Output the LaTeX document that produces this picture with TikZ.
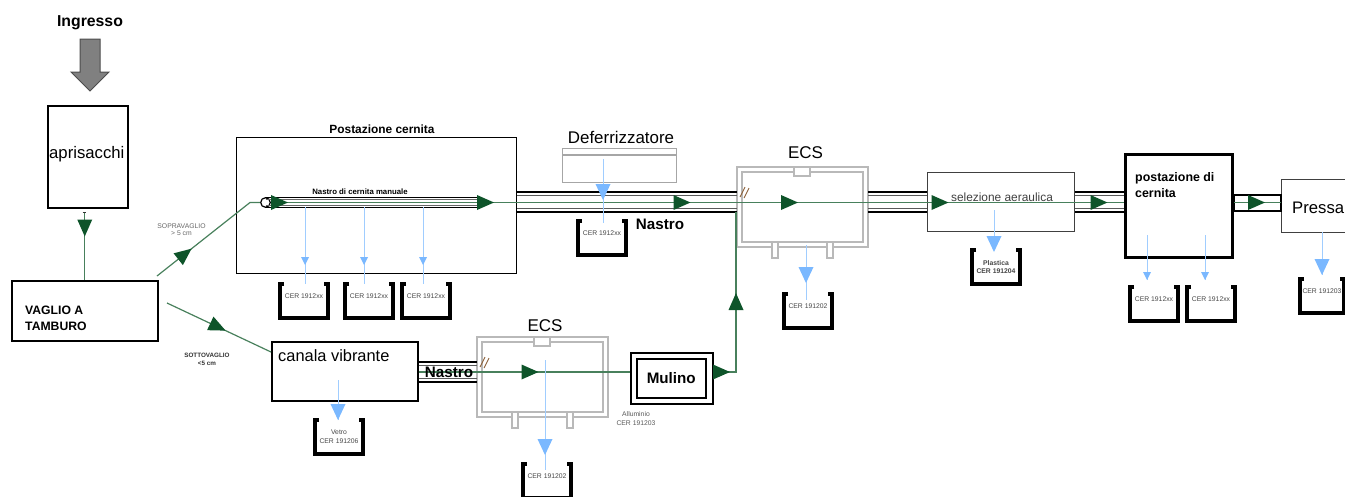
\documentclass[tikz,border=0pt]{standalone}
\usepackage{fontspec}
\setmainfont{Liberation Sans}
\usetikzlibrary{calc}

\definecolor{flowgreen}{RGB}{72,128,92}
\definecolor{headgreen}{RGB}{14,84,42}
\definecolor{dropblue}{RGB}{122,184,255}
\definecolor{droplineblue}{RGB}{160,205,255}
\definecolor{ecsgray}{RGB}{185,185,185}
\definecolor{slashbrown}{RGB}{140,95,55}
\definecolor{arrowgray}{RGB}{128,128,128}
\definecolor{labelgray}{RGB}{70,70,70}

\begin{document}
\begin{tikzpicture}[x=1pt, y=-1pt,
  blk/.style={draw=black, line width=#1, inner sep=0pt, fill=white, anchor=north west},
  blk/.default=1.5,
  flowline/.style={draw=flowgreen, line width=1.2},
  beltout/.style={draw=black, line width=1.6},
  beltin/.style={draw=black!65, line width=0.7},
  dropline/.style={draw=droplineblue, line width=1},
  ecsline/.style={draw=ecsgray, line width=1.2},
  binlabel/.style={font=\fontsize{6.8}{8.5}\selectfont, text=labelgray, align=center, inner sep=0pt},
  binw/.initial=48,
  % waste container: open bracket with inward ticks
  bin/.pic={
    \def\binwd{\pgfkeysvalueof{/tikz/binw}}
    \draw[line width=3.2, line join=miter] (4,0) -- (0,0) -- (0,34) -- (\binwd,34) -- (\binwd,0) -- (\binwd-4,0);
    \coordinate (-top) at (\binwd/2,0);
    \node[binlabel, anchor=north] (-label) at (\binwd/2,10) {#1};
  },
  % eddy current separator housing
  ecs/.pic={
    \node[inner sep=0pt, minimum width=131, minimum height=80, anchor=north west] (-body) at (0,0) {};
    \draw[ecsline] (0,0) rectangle (131,80);
    \draw[ecsline] (5,5) rectangle (126,75);
    \draw[ecsline, fill=white] (57,0) rectangle (73,9);
    \draw[ecsline, fill=white] (35,75) rectangle (41,91);
    \draw[ecsline, fill=white] (90,75) rectangle (96,91);
    \draw[slashbrown, line width=0.9] (3,30) -- (8,20) (7,31) -- (12,21);
  },
  fhead/.pic={\fill[headgreen] (8.5,0) -- (-8.5,7.5) -- (-8.5,-7.5) -- cycle;},
  dheadL/.pic={\fill[dropblue] (0,0) -- (-7.5,-16) -- (7.5,-16) -- cycle;},
  dheadS/.pic={\fill[dropblue] (0,0) -- (-4,-8) -- (4,-8) -- cycle;}
]
\useasboundingbox (0,0) rectangle (1345,496);
\clip (0,0) rectangle (1345,496);

% ---------- entry ----------
\node[font=\bfseries\fontsize{15.8}{19}\selectfont, anchor=base, inner sep=0pt] (ingresso) at (90,26.5) {Ingresso};
\filldraw[fill=arrowgray, draw=black!70, line width=1]
  (80,39) -- (100,39) -- (100,72) -- (109,72) -- (90,91) -- (71,72) -- (80,72) -- cycle;

% ---------- boxes ----------
\node[blk=2, minimum width=80, minimum height=102] (apr) at (47,105) {};
\node[anchor=base, inner sep=0pt, font=\fontsize{16.7}{20}\selectfont] (aprt) at (86.8,158) {aprisacchi};

\node[blk=1.5, minimum width=146, minimum height=60] (vag) at (11,280) {};
\node[anchor=north west, inner sep=0pt, align=left, font=\bfseries\fontsize{12.2}{15.5}\selectfont] (vagt) at (25,306) {VAGLIO A\\TAMBURO};

\node[blk=1.3, minimum width=280, minimum height=136] (cern) at (236,137) {};
\node[anchor=base, inner sep=0pt, font=\bfseries\fontsize{11.9}{14}\selectfont] (cernt) at (382,133) {Postazione cernita};

\node[blk=1.2, draw=black!35, minimum width=114, minimum height=34] (def) at (562,148) {};
\draw[draw=black!35, line width=1.2] ([yshift=-7pt]def.north west) -- ([yshift=-7pt]def.north east);
\node[anchor=base, inner sep=0pt, font=\fontsize{16.9}{20}\selectfont] (deft) at (621,143) {Deferrizzatore};

\node[blk=1.3, draw=black!75, minimum width=147, minimum height=59] (sel) at (927,172) {};
\node[blk=3, minimum width=107, minimum height=103] (pdc) at (1124,153) {};
\node[anchor=north west, inner sep=0pt, align=left, font=\bfseries\fontsize{12.4}{16}\selectfont] (pdct) at (1135,172) {postazione di\\cernita};
\node[blk=1.3, draw=black!75, minimum width=90, minimum height=53] (pres) at (1281,179) {};
\node[anchor=base west, inner sep=0pt, font=\fontsize{16.7}{20}\selectfont] (prest) at (1292,213) {Pressa};

\node[blk=1.5, minimum width=146, minimum height=59] (can) at (271,341) {};
\node[anchor=base west, inner sep=0pt, font=\fontsize{16.4}{20}\selectfont] (cant) at (278,361) {canala vibrante};

\node[blk=1.5, minimum width=82, minimum height=51] (mul) at (630,352) {};
\node[blk=1.5, minimum width=69, minimum height=39, font=\bfseries\fontsize{15.2}{18}\selectfont] (mulin) at (636,358) {Mulino};

% ---------- eddy current separators ----------
\pic (ecsA) at (737,167) {ecs};
\pic (ecsB) at (477,337) {ecs};
\node[anchor=base, inner sep=0pt, font=\fontsize{17}{20}\selectfont] (ecsAt) at (805.5,158) {ECS};
\node[anchor=base, inner sep=0pt, font=\fontsize{17}{20}\selectfont] (ecsBt) at (545,331) {ECS};

% ---------- conveyor belts ----------
\newcommand{\beltrun}[4]{%
  \draw[beltout] (#1 |- 0,#3) -- (#2 |- 0,#3) (#1 |- 0,#4) -- (#2 |- 0,#4);
  \draw[beltin] (#1 |- 0,#3+3.5) -- (#2 |- 0,#3+3.5) (#1 |- 0,#4-3.5) -- (#2 |- 0,#4-3.5);}
\beltrun{cern.east}{ecsA-body.west}{192}{212}
\beltrun{ecsA-body.east}{sel.west}{192}{212}
\beltrun{sel.east}{pdc.west}{192}{212}
\beltrun{can.east}{ecsB-body.west}{362}{382}
\draw[line width=2.2] (pdc.east |- 0,195) rectangle (pres.west |- 0,211);

% manual sorting belt with its end pulley
\node[circle, draw=black, line width=1.2, minimum size=9.6, inner sep=0pt] (roll) at (265.5,202.5) {};
\coordinate (beltend) at (480,202.5);
\draw[black, line width=1] (roll.north) -- (beltend |- roll.north) (roll.south) -- (beltend |- roll.south);
\draw[black!60, line width=0.6] ([yshift=-2.2pt]roll.north) -- ([yshift=-2.2pt]beltend |- roll.north)
  ([yshift=2.2pt]roll.south) -- ([yshift=2.2pt]beltend |- roll.south);
\node[anchor=base, inner sep=0pt, font=\bfseries\fontsize{7.8}{9}\selectfont] (beltt) at (360,194) {Nastro di cernita manuale};

% ---------- material flow ----------
\coordinate (sopra) at (157,276);
\coordinate (bend1) at (250,202.5);
\coordinate (sotto) at (167,303);
\coordinate (lowy) at (0,372);
\coordinate (join) at ([xshift=-1pt]ecsA-body.west |- 0,212);

\draw[flowline] (vag.north |- 0,212) -- (vag.north);
\draw[black!80, line width=0.8] (82.5,212) -- (85.5,212);
\draw[flowline] (sopra) -- (bend1) -- (roll.west);
\draw[flowline] (sotto) -- ($(can.north west)+(0,11)$);
\draw[flowline] (roll.east) -- (roll.east -| pdc.west);
\draw[flowline] (pdc.east |- roll) -- (pres.west |- roll);
\draw[flowline] (can.east |- lowy) -- (mul.west |- lowy);
\draw[flowline] (mul.east |- lowy) -| (join);

\pic[rotate=-90] at (vag.north |- 0,228) {fhead};
\pic[rotate=38.3] at ($(sopra)!0.3!(bend1)$) {fhead};
\pic[rotate=-25.2] at ($(sotto)!0.49!($(can.north west)+(0,11)$)$) {fhead};
\pic at (279.5,202.5) {fhead};
\pic at (485.5,202.5) {fhead};
\pic at (682,202.5) {fhead};
\pic at (789.5,202.5) {fhead};
\pic at (940,202.5) {fhead};
\pic at (1099,202.5) {fhead};
\pic at (1256.5,202.5) {fhead};
\pic at (530,372) {fhead};
\pic at (721.5,372) {fhead};
\pic[rotate=90] at (736,301.5) {fhead};

% ---------- labels on the flow ----------
\node[anchor=base, inner sep=0pt, font=\bfseries\fontsize{15.2}{18}\selectfont] (nastroA) at (660,229) {Nastro};
\node[anchor=base, inner sep=0pt, font=\bfseries\fontsize{15.2}{18}\selectfont] (nastroB) at (449,377) {Nastro};
\node[anchor=base, inner sep=0pt, text=black!75, font=\fontsize{11.9}{14}\selectfont] (selt) at (1002,201) {selezione aeraulica};
\node[inner sep=0pt, align=center, text=black!60, font=\fontsize{6.8}{7.5}\selectfont] (soprat) at (181.5,229.5) {SOPRAVAGLIO\\> 5 cm};
\node[inner sep=0pt, align=center, text=black!80, font=\bfseries\fontsize{6.3}{8.5}\selectfont] (sottot) at (207,359.5) {SOTTOVAGLIO\\<5 cm};
\node[inner sep=0pt, align=center, text=black!65, font=\fontsize{6.8}{9}\selectfont] (allut) at (636,418.5) {Alluminio\\CER 191203};

% ---------- containers ----------
\pic (b1) at (280,284) {bin={CER 1912xx}};
\pic (b2) at (345,284) {bin={CER 1912xx}};
\pic (b3) at (402,284) {bin={CER 1912xx}};
\pic (bdef) at (578,221) {bin={CER 1912xx}};
\pic (becsA) at (784,294) {bin={CER 191202}};
\pic (bpla) at (972,250) {bin={\textbf{Plastica}\\\textbf{CER 191204}}};
\pic (bpc1) at (1130,287) {bin={CER 1912xx}};
\pic (bpc2) at (1187,287) {bin={CER 1912xx}};
\pic[binw=44] (bpres) at (1300,279) {bin={CER 191203}};
\pic (bvet) at (315,420) {bin={Vetro\\CER 191206}};
\pic (becsB) at (523,464) {bin={CER 191202}};

% ---------- discharges into containers ----------
\draw[dropline] (305,207) -- (305,0 |- b1-top);
\draw[dropline] (364,207) -- (364,0 |- b2-top);
\draw[dropline] (423,207) -- (423,0 |- b3-top);
\pic at (305,265) {dheadS};
\pic at (364,265) {dheadS};
\pic at (423,265) {dheadS};

\draw[dropline] (603,159) -- (603,223);
\pic at (603,200) {dheadL};

\draw[dropline] (806,245) -- (806,300);
\pic at (806,283) {dheadL};

\draw[dropline] (994,210) -- (994,0 |- bpla-top);
\pic at (994,252) {dheadL};

\draw[dropline] (1147,235) -- (1147,280);
\draw[dropline] (1205,235) -- (1205,280);
\pic at (1147,280) {dheadS};
\pic at (1205,280) {dheadS};

\draw[dropline] (1322,232) -- (1322,275);
\pic at (1322,275) {dheadL};

\draw[dropline] (338,380) -- (338,0 |- bvet-top);
\pic at (338,420) {dheadL};

\draw[dropline] (545,360) -- (545,470);
\pic at (545,455) {dheadL};

\end{tikzpicture}
\end{document}
